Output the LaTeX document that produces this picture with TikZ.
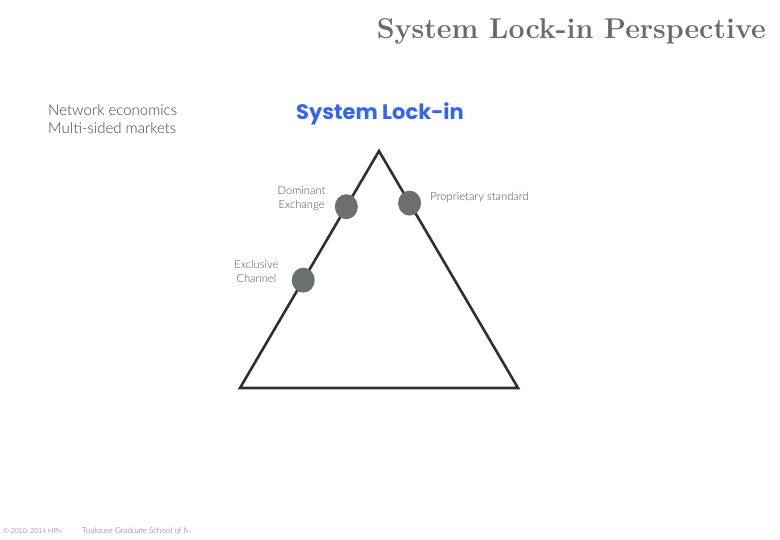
\documentclass[tikz,border=0pt]{standalone}
\usepackage{fontspec}
\setmainfont{Latin Modern Roman}
\newfontfamily\gillfont{Lato Light}
\newfontfamily\gothfont{Poppins}
\usetikzlibrary{shapes.geometric,calc,positioning}
\definecolor{titlegray}{HTML}{6A6A6A}
\definecolor{lockblue}{HTML}{3366F0}
\definecolor{dotgray}{HTML}{6B706E}
\definecolor{edgegray}{HTML}{303030}
\tikzset{
  lock_dot/.style = {ellipse, fill=dotgray, minimum width=23pt,
    minimum height=25pt, inner sep=0pt},% point on the triangle
  lock_lbl/.style = {font=\gillfont\fontsize{11.2}{14}\selectfont,
    text=black!70, align=center, inner sep=1pt},
  side_txt/.style = {font=\gillfont\fontsize{15}{18}\selectfont,
    text=black!75, align=left, inner sep=0pt},
  foot_txt/.style = {font=\gillfont\fontsize{6.9}{9}\selectfont,
    text=black!60, inner sep=0pt, anchor=west}
}
\begin{document}
\begin{tikzpicture}[x=1pt,y=-1pt]
  \useasboundingbox (0,0) rectangle (780,540);
  % headings
  \node [anchor=east, inner sep=0pt, text=titlegray,
    font=\bfseries\fontsize{28.6}{32}\selectfont] (title) at (766,31)
    {System Lock-in Perspective};
  \node [inner sep=0pt, text=lockblue,
    font=\gothfont\bfseries\fontsize{21}{26}\selectfont] (lock) at (380,114)
    {System Lock-in};
  \node [side_txt, anchor=north west] (topics) at (48,104)
    {Network economics\\Multi-sided markets};
  % triangle
  \coordinate (top) at (379,151);
  \coordinate (bl) at (240,388);
  \coordinate (br) at (518,388);
  \draw [edgegray, line width=2.6pt, line join=miter] (top) -- (bl) -- (br) -- cycle;
  % points on the sides
  \node [lock_dot] (dom) at ($(top)!0.235!(bl)$) {};
  \node [lock_dot] (excl) at ($(top)!0.545!(bl)$) {};
  \node [lock_dot] (prop) at ($(top)!0.22!(br)$) {};
  \node [lock_lbl, left=8pt of dom, yshift=8pt] (domlbl) {Dominant\\Exchange};
  \node [lock_lbl, left=12pt of excl, yshift=9pt] (excllbl) {Exclusive\\Channel};
  \node [lock_lbl, right=8pt of prop, yshift=6pt] (proplbl) {Proprietary standard};
  % footer
  \node [foot_txt] (copy) at (3,531) {\textcopyright\ 2010, 2014 HPh};
  \begin{scope}
    \clip (80,520) rectangle (187,540);
    \node [foot_txt, font=\gillfont\fontsize{8}{10}\selectfont] (school) at (82,531)
      {Toulouse Graduate School of Management};
  \end{scope}
\end{tikzpicture}
\end{document}
